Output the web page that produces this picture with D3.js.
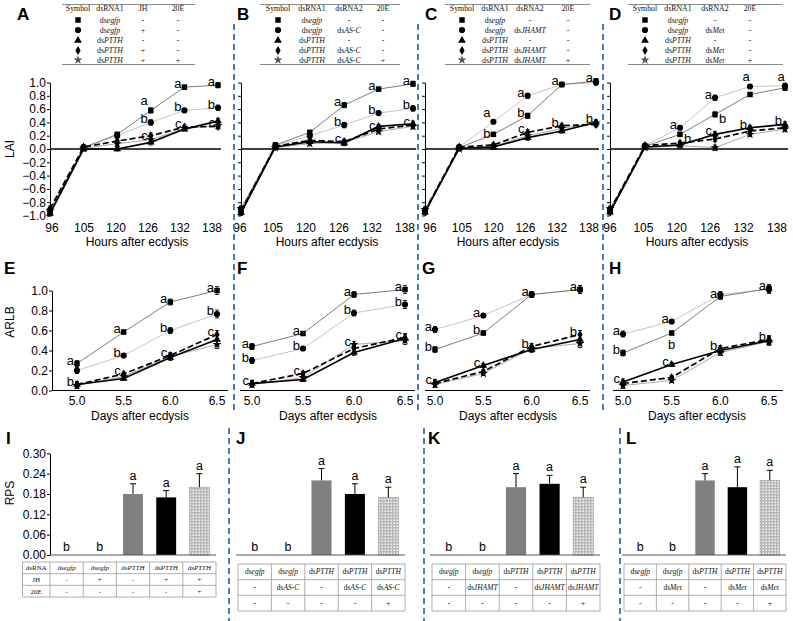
<!DOCTYPE html>
<html>
<head>
<meta charset="utf-8">
<script src="https://cdn.jsdelivr.net/npm/d3@7"></script>
<style>
  body { margin: 0; background: #fff; }
  svg text { font-family: "Liberation Sans", Arial, sans-serif; }
  .tbl text { font-family: "Liberation Serif", "Times New Roman", serif; fill: #111; }
</style>
</head>
<body>
<svg id="fig" width="793" height="621"></svg>
<script>
// ---- data ----
const hours = [96, 105, 120, 126, 132, 138];
const days = [5.0, 5.5, 6.0, 6.5];
const laiTicks = [-1.0, -0.8, -0.6, -0.4, -0.2, 0.0, 0.2, 0.4, 0.6, 0.8, 1.0];
const arlbTicks = [0.0, 0.2, 0.4, 0.6, 0.8, 1.0];
const rpsTicks = [0.00, 0.06, 0.12, 0.18, 0.24, 0.30];

// series order in every line panel: square, circle, triangle, diamond, star
const laiA = [
  [-0.95, 0.02, 0.22, 0.58, 0.93, 0.96],
  [-0.92, 0.03, 0.20, 0.40, 0.58, 0.62],
  [-0.97, 0.00, 0.00, 0.10, 0.30, 0.42],
  [-0.90, 0.03, 0.12, 0.20, 0.33, 0.34],
  [-0.93, 0.01, 0.08, 0.14, 0.31, 0.35]
];
const laiB = [
  [-0.92, 0.06, 0.25, 0.66, 0.90, 0.98],
  [-0.90, 0.05, 0.20, 0.36, 0.54, 0.61],
  [-0.96, 0.03, 0.11, 0.09, 0.34, 0.38],
  [-0.93, 0.04, 0.13, 0.11, 0.30, 0.36],
  [-0.90, 0.02, 0.08, 0.10, 0.26, 0.34]
];
const laiC = [
  [-0.94, 0.02, 0.22, 0.50, 0.97, 1.02],
  [-0.92, 0.03, 0.41, 0.80, 0.97, 1.00],
  [-0.95, 0.01, 0.03, 0.17, 0.27, 0.40],
  [-0.93, 0.03, 0.06, 0.25, 0.35, 0.37],
  [-0.91, 0.00, 0.04, 0.20, 0.31, 0.39]
];
const laiD = [
  [-0.93, 0.04, 0.22, 0.52, 0.82, 0.92],
  [-0.91, 0.05, 0.32, 0.77, 0.94, 0.95],
  [-0.95, 0.03, 0.06, 0.22, 0.32, 0.37],
  [-0.92, 0.05, 0.09, 0.15, 0.27, 0.32],
  [-0.90, 0.02, 0.05, 0.02, 0.22, 0.30]
];
const laiErr = [0.04, 0.03, 0.03, 0.04, 0.03, 0.04];

const arlbE = [
  [0.27, 0.585, 0.885, 1.00],
  [0.20, 0.35, 0.60, 0.765],
  [0.06, 0.12, 0.33, 0.51],
  [0.06, 0.165, 0.35, 0.56],
  [0.05, 0.14, 0.34, 0.46]
];
const arlbF = [
  [0.44, 0.57, 0.96, 1.01],
  [0.30, 0.42, 0.775, 0.86],
  [0.07, 0.11, 0.38, 0.52],
  [0.07, 0.17, 0.42, 0.53],
  [0.06, 0.13, 0.46, 0.50]
];
const arlbG = [
  [0.41, 0.575, 0.96, 1.01],
  [0.61, 0.75, 0.96, 1.01],
  [0.08, 0.25, 0.41, 0.51],
  [0.07, 0.19, 0.44, 0.56],
  [0.06, 0.17, 0.42, 0.47]
];
const arlbH = [
  [0.375, 0.575, 0.94, 1.02],
  [0.565, 0.69, 0.96, 1.01],
  [0.085, 0.26, 0.40, 0.50],
  [0.07, 0.13, 0.42, 0.51],
  [0.05, 0.10, 0.38, 0.49]
];
const arlbErr = [0.03, 0.02, 0.03, 0.04];

// significance letters: [time index, series index, letter, side]
const lettersA = [[3,0,"a","UL"],[3,1,"b"],[3,3,"c","DL"],[4,0,"a"],[4,1,"b"],[4,3,"c"],[5,0,"a"],[5,1,"b"],[5,3,"c"]];
const lettersB = [[3,0,"a"],[3,1,"b"],[3,3,"c"],[4,0,"a"],[4,1,"b"],[4,3,"c"],[5,0,"a"],[5,1,"b"],[5,3,"c"]];
const lettersC = [[2,1,"a","UL"],[2,0,"b","DL"],[3,1,"a"],[3,0,"b"],[3,3,"c"],[4,0,"a"],[4,3,"b"],[5,0,"a"],[5,2,"b"]];
const lettersD = [[2,1,"a"],[2,0,"b","R"],[3,1,"a"],[3,0,"b","R"],[3,2,"c"],[4,1,"a","U"],[4,2,"b"],[5,1,"a","U"],[5,2,"b"]];
const lettersE = [[0,0,"a"],[0,2,"b"],[1,0,"a"],[1,1,"b"],[1,3,"c"],[2,0,"a"],[2,1,"b"],[2,3,"c"],[3,0,"a"],[3,1,"b"],[3,3,"c"]];
const lettersF = [[0,0,"a"],[0,1,"b"],[0,2,"c"],[1,0,"a"],[1,1,"b"],[1,3,"c"],[2,0,"a"],[2,1,"b"],[2,4,"c"],[3,0,"a"],[3,1,"b"],[3,3,"c"]];
const lettersG = [[0,1,"a"],[0,0,"b"],[0,2,"c"],[1,1,"a"],[1,0,"b"],[1,2,"c"],[2,0,"a"],[2,3,"b"],[3,0,"a"],[3,3,"b"]];
const lettersH = [[0,1,"a"],[0,0,"b"],[0,2,"c"],[1,1,"a"],[1,0,"b","B"],[1,2,"c"],[2,0,"a"],[2,3,"b"],[3,0,"a"],[3,3,"b"]];

// legend tables (top)
const legendHeadA = ["Symbol", "dsRNA1", "JH", "20E"];
const legendHeadBCD = ["Symbol", "dsRNA1", "dsRNA2", "20E"];
const legendRowsA = [["dsegfp","-","-"],["dsegfp","+","-"],["dsPTTH","-","-"],["dsPTTH","+","-"],["dsPTTH","+","+"]];
const legendRowsB = [["dsegfp","-","-"],["dsegfp","dsAS-C","-"],["dsPTTH","-","-"],["dsPTTH","dsAS-C","-"],["dsPTTH","dsAS-C","+"]];
const legendRowsC = [["dsegfp","-","-"],["dsegfp","dsJHAMT","-"],["dsPTTH","-","-"],["dsPTTH","dsJHAMT","-"],["dsPTTH","dsJHAMT","+"]];
const legendRowsD = [["dsegfp","-","-"],["dsegfp","dsMet","-"],["dsPTTH","-","-"],["dsPTTH","dsMet","-"],["dsPTTH","dsMet","+"]];

// RPS bars
const rpsI = [0, 0, 0.18, 0.17, 0.20];
const rpsErrI = [0, 0, 0.03, 0.02, 0.04];
const rpsJ = [0, 0, 0.22, 0.18, 0.17];
const rpsErrJ = [0, 0, 0.035, 0.03, 0.03];
const rpsK = [0, 0, 0.20, 0.21, 0.17];
const rpsErrK = [0, 0, 0.04, 0.025, 0.03];
const rpsL = [0, 0, 0.22, 0.20, 0.22];
const rpsErrL = [0, 0, 0.02, 0.06, 0.03];
const rpsLetters = ["b", "b", "a", "a", "a"];

const tableI = [["dsRNA","dsegfp","dsegfp","dsPTTH","dsPTTH","dsPTTH"],["JH","-","+","-","+","+"],["20E","-","-","-","-","+"]];
const tableJ = [["dsegfp","dsegfp","dsPTTH","dsPTTH","dsPTTH"],["-","dsAS-C","-","dsAS-C","dsAS-C"],["-","-","-","-","+"]];
const tableK = [["dsegfp","dsegfp","dsPTTH","dsPTTH","dsPTTH"],["-","dsJHAMT","-","dsJHAMT","dsJHAMT"],["-","-","-","-","+"]];
const tableL = [["dsegfp","dsegfp","dsPTTH","dsPTTH","dsPTTH"],["-","dsMet","-","dsMet","dsMet"],["-","-","-","-","+"]];

// ---- styles ----
const seriesStyle = [
  {stroke: "#6e6e6e", width: 0.9, dash: null, sym: d3.symbolSquare, size: 30},
  {stroke: "#bdbdbd", width: 0.9, dash: null, sym: d3.symbolCircle, size: 30},
  {stroke: "#000", width: 1.7, dash: null, sym: d3.symbolTriangle, size: 26},
  {stroke: "#000", width: 1.7, dash: "6,3", sym: d3.symbolDiamond, size: 24},
  {stroke: "#a0a0a0", width: 0.9, dash: null, sym: d3.symbolStar, size: 26}
];
const drawOrder = [1, 4, 0, 2, 3];
const sepColor = "#4a7ebb";

const svg = d3.select("#fig");

const defs = svg.append("defs");
const pat = defs.append("pattern").attr("id", "dots")
  .attr("width", 3).attr("height", 3).attr("patternUnits", "userSpaceOnUse");
pat.append("rect").attr("width", 3).attr("height", 3).attr("fill", "#b8b8b8");
pat.append("rect").attr("x", 0.5).attr("y", 0.5).attr("width", 1.5).attr("height", 1.5).attr("fill", "#f4f4f4");

function richText(sel, s) {
  if (/^ds/.test(s) && s !== "dsRNA" && !/^dsRNA\d/.test(s)) {
    sel.append("tspan").text("ds");
    sel.append("tspan").attr("font-style", "italic").text(s.slice(2));
  } else {
    sel.text(s);
  }
}

function panelLetter(t, x, y) {
  svg.append("text").attr("x", x).attr("y", y)
    .attr("font-size", 17).attr("font-weight", "bold").text(t);
}

function sigLetter(g, px, py, t, side) {
  let tx = px - 3, ty = py + 1, anchor = "end";
  if (side === "UL") { ty = py - 5; }
  if (side === "DL") { ty = py + 4; }
  if (side === "R") { tx = px + 4; ty = py + 9; anchor = "start"; }
  if (side === "U") { tx = px - 4; ty = py - 5; anchor = "middle"; }
  if (side === "B") { tx = px; ty = py + 16; anchor = "middle"; }
  g.append("text").attr("x", tx).attr("y", ty).attr("text-anchor", anchor)
    .attr("font-size", 13).text(t);
}

function drawSeries(g, xv, x, y, data, err, letters) {
  drawOrder.forEach(si => {
    const st = seriesStyle[si];
    const line = d3.line().x((d, i) => x(xv[i])).y(d => y(d));
    g.append("path").datum(data[si]).attr("d", line)
      .attr("fill", "none").attr("stroke", st.stroke).attr("stroke-width", st.width)
      .attr("stroke-dasharray", st.dash);
  });
  drawOrder.forEach(si => {
    const st = seriesStyle[si];
    data[si].forEach((v, i) => {
      const px = x(xv[i]), y0 = y(v - err[i]), y1 = y(v + err[i]);
      g.append("line").attr("x1", px).attr("x2", px).attr("y1", y0).attr("y2", y1)
        .attr("stroke", "#000").attr("stroke-width", 0.8);
      [y0, y1].forEach(yy => g.append("line").attr("x1", px - 2).attr("x2", px + 2)
        .attr("y1", yy).attr("y2", yy).attr("stroke", "#000").attr("stroke-width", 0.8));
      g.append("path").attr("d", d3.symbol().type(st.sym).size(st.size)())
        .attr("transform", `translate(${px},${y(v)})`).attr("fill", "#000");
    });
  });
  letters.forEach(l => {
    sigLetter(g, x(xv[l[0]]), y(data[l[1]][l[0]]), l[2], l[3] || "L");
  });
}

// ---- top row: LAI ----
const yLai = d3.scaleLinear().domain([-1, 1]).range([215.5, 82.5]);
const topPanels = [
  {name: "A", data: laiA, letters: lettersA, r: [50, 218], lr: [52, 212], lx: 17, tx: 137, labels: true},
  {name: "B", data: laiB, letters: lettersB, r: [241, 413], lr: [240, 405], lx: 237, tx: 327},
  {name: "C", data: laiC, letters: lettersC, r: [425, 596], lr: [430, 589], lx: 425, tx: 508},
  {name: "D", data: laiD, letters: lettersD, r: [610, 785], lr: [610, 777], lx: 609, tx: 697}
];
topPanels.forEach(p => {
  const x = d3.scalePoint().domain(hours).range(p.r);
  const xl = d3.scalePoint().domain(hours).range(p.lr);
  const g = svg.append("g");
  const ax = g.append("g").attr("transform", `translate(${p.r[0]},0)`)
    .call(d3.axisLeft(yLai).tickValues(laiTicks).tickSize(3).tickSizeOuter(0).tickPadding(1)
      .tickFormat(p.labels ? d3.format(".1f") : ""));
  ax.selectAll("text").attr("font-size", 12).attr("font-family", "Liberation Sans, Arial, sans-serif");
  ax.selectAll("path,line").attr("stroke", "#000");
  g.append("line").attr("x1", p.r[0]).attr("x2", p.r[1] + 3)
    .attr("y1", yLai(0)).attr("y2", yLai(0)).attr("stroke", "#000").attr("stroke-width", 1.6);
  hours.forEach(h => g.append("text").attr("x", xl(h)).attr("y", 232)
    .attr("text-anchor", "middle").attr("font-size", 12).text(h));
  g.append("text").attr("x", p.tx).attr("y", 246).attr("text-anchor", "middle")
    .attr("font-size", 12).text("Hours after ecdysis");
  drawSeries(g, hours, x, yLai, p.data, laiErr, p.letters);
  panelLetter(p.name, p.lx, 20);
});
svg.append("text").attr("transform", "translate(14,149) rotate(-90)")
  .attr("text-anchor", "middle").attr("font-size", 12).text("LAI");

// ---- legend tables (top) ----
const legends = [
  {head: legendHeadA, rows: legendRowsA, x: [62, 195], cols: [78, 110, 143, 178]},
  {head: legendHeadBCD, rows: legendRowsB, x: [260, 400], cols: [278, 312, 349, 383]},
  {head: legendHeadBCD, rows: legendRowsC, x: [445, 590], cols: [462, 495, 530, 568]},
  {head: legendHeadBCD, rows: legendRowsD, x: [628, 783], cols: [645, 678, 715, 750]}
];
const legendRowY = [8, 20, 30, 40.5, 50.5, 60];
legends.forEach(L => {
  const g = svg.append("g").attr("class", "tbl");
  [4.5, 64.5].forEach(yy => g.append("line").attr("x1", L.x[0]).attr("x2", L.x[1])
    .attr("y1", yy).attr("y2", yy).attr("stroke", "#8a8a8a").attr("stroke-width", 1));
  L.head.forEach((h, i) => g.append("text").attr("x", L.cols[i]).attr("y", legendRowY[0] + 2.6)
    .attr("text-anchor", "middle").attr("font-size", 7.8).text(h));
  L.rows.forEach((r, ri) => {
    const yy = legendRowY[ri + 1];
    const st = seriesStyle[ri];
    g.append("path").attr("d", d3.symbol().type(st.sym).size(st.size)())
      .attr("transform", `translate(${L.cols[0]},${yy})`).attr("fill", ri === 4 ? "#555" : "#000");
    r.forEach((c, ci) => g.append("text").attr("x", L.cols[ci + 1]).attr("y", yy + 2.6)
      .attr("text-anchor", "middle").attr("font-size", 7.8).call(richText, c));
  });
});

// ---- middle row: ARLB ----
const yArlb = d3.scaleLinear().domain([0, 1]).range([390.5, 290.5]);
const midPanels = [
  {name: "E", data: arlbE, letters: lettersE, r: [77, 217], ax: [52, 228], lx: 4, tx: 140, labels: true},
  {name: "F", data: arlbF, letters: lettersF, r: [252, 405], ax: [240, 415], lx: 237, tx: 328},
  {name: "G", data: arlbG, letters: lettersG, r: [435, 580], ax: [425, 590], lx: 422, tx: 508},
  {name: "H", data: arlbH, letters: lettersH, r: [623, 769], ax: [613, 783], lx: 609, tx: 697}
];
midPanels.forEach(p => {
  const x = d3.scaleLinear().domain([5.0, 6.5]).range(p.r);
  const g = svg.append("g");
  if (p.labels) {
    const ax = g.append("g").attr("transform", `translate(${p.ax[0]},0)`)
      .call(d3.axisLeft(yArlb).tickValues(arlbTicks).tickSize(3).tickSizeOuter(0).tickPadding(1)
        .tickFormat(d3.format(".1f")));
    ax.selectAll("text").attr("font-size", 12).attr("font-family", "Liberation Sans, Arial, sans-serif");
    ax.selectAll("path,line").attr("stroke", "#000");
  }
  g.append("line").attr("x1", p.ax[0]).attr("x2", p.ax[1])
    .attr("y1", yArlb(0)).attr("y2", yArlb(0)).attr("stroke", "#000").attr("stroke-width", 1.2);
  days.forEach(d => g.append("text").attr("x", x(d)).attr("y", 405)
    .attr("text-anchor", "middle").attr("font-size", 12).text(d3.format(".1f")(d)));
  g.append("text").attr("x", p.tx).attr("y", 420).attr("text-anchor", "middle")
    .attr("font-size", 12).text("Days after ecdysis");
  drawSeries(g, days, x, yArlb, p.data, arlbErr, p.letters);
  panelLetter(p.name, p.lx, 274);
});
svg.append("text").attr("transform", "translate(14,322) rotate(-90)")
  .attr("text-anchor", "middle").attr("font-size", 12).text("ARLB");

// ---- bottom row: RPS ----
const yRps = d3.scaleLinear().domain([0, 0.30]).range([555, 453.3]);
const barFills = ["#808080", "#808080", "#808080", "#000", "url(#dots)"];
const botPanels = [
  {name: "I", vals: rpsI, err: rpsErrI, table: tableI, r: [50, 216], lab: [22.5, 50], ty: [562, 597], lx: 6, labels: true, fs: 7},
  {name: "J", vals: rpsJ, err: rpsErrJ, table: tableJ, r: [238, 405], ty: [564, 611], lx: 236, fs: 7.5},
  {name: "K", vals: rpsK, err: rpsErrK, table: tableK, r: [432, 600], ty: [564, 611], lx: 428, fs: 7.5},
  {name: "L", vals: rpsL, err: rpsErrL, table: tableL, r: [624, 786], ty: [564, 611], lx: 626, fs: 7.5}
];
botPanels.forEach(p => {
  const x = d3.scaleBand().domain(d3.range(p.vals.length)).range(p.r).paddingInner(0.4).paddingOuter(0.2);
  const g = svg.append("g");
  if (p.labels) {
    const ax = g.append("g").attr("transform", `translate(${p.r[0]},0)`)
      .call(d3.axisLeft(yRps).tickValues(rpsTicks).tickSize(3).tickSizeOuter(0).tickPadding(1)
        .tickFormat(d3.format(".2f")));
    ax.selectAll("text").attr("font-size", 12).attr("font-family", "Liberation Sans, Arial, sans-serif");
    ax.selectAll("path,line").attr("stroke", "#000");
  }
  p.vals.forEach((v, i) => {
    if (v > 0) {
      g.append("rect").attr("x", x(i)).attr("y", yRps(v)).attr("width", x.bandwidth())
        .attr("height", yRps(0) - yRps(v)).attr("fill", barFills[i])
        .attr("stroke", i === 4 ? "#999" : "none").attr("stroke-width", 0.6);
      const cx = x(i) + x.bandwidth() / 2, top = yRps(v + p.err[i]);
      g.append("line").attr("x1", cx).attr("x2", cx).attr("y1", yRps(v)).attr("y2", top)
        .attr("stroke", "#000").attr("stroke-width", 1);
      g.append("line").attr("x1", cx - 3).attr("x2", cx + 3).attr("y1", top).attr("y2", top)
        .attr("stroke", "#000").attr("stroke-width", 1);
    }
    g.append("text").attr("x", x(i) + x.bandwidth() / 2).attr("y", yRps(v + p.err[i]) - 4)
      .attr("text-anchor", "middle").attr("font-size", 12.5).text(rpsLetters[i]);
  });
  g.append("line").attr("x1", p.labels ? p.r[0] : p.r[0] - 2).attr("x2", p.r[1])
    .attr("y1", yRps(0)).attr("y2", yRps(0)).attr("stroke", "#555").attr("stroke-width", 1);

  // condition table
  const t = svg.append("g").attr("class", "tbl");
  const nr = p.table.length;
  const rh = (p.ty[1] - p.ty[0]) / nr;
  const colEdges = [];
  if (p.lab) colEdges.push(p.lab[0]);
  colEdges.push(p.r[0]);
  p.vals.forEach((v, i) => { if (i > 0) colEdges.push(x(i) - x.step() * 0.4 / 2); });
  colEdges.push(p.r[1]);
  const colCenters = [];
  if (p.lab) colCenters.push((p.lab[0] + p.lab[1]) / 2);
  p.vals.forEach((v, i) => colCenters.push(x(i) + x.bandwidth() / 2));
  const left = colEdges[0], right = colEdges[colEdges.length - 1];
  for (let k = 0; k <= nr; k++) {
    t.append("line").attr("x1", left).attr("x2", right)
      .attr("y1", p.ty[0] + k * rh).attr("y2", p.ty[0] + k * rh)
      .attr("stroke", "#9a9a9a").attr("stroke-width", 0.8);
  }
  colEdges.forEach(cx => t.append("line").attr("x1", cx).attr("x2", cx)
    .attr("y1", p.ty[0]).attr("y2", p.ty[1]).attr("stroke", "#9a9a9a").attr("stroke-width", 0.8));
  p.table.forEach((row, ri) => row.forEach((c, ci) => {
    t.append("text").attr("x", colCenters[ci]).attr("y", p.ty[0] + (ri + 0.5) * rh + 2.5)
      .attr("text-anchor", "middle").attr("font-size", p.fs).call(richText, c);
  }));
  panelLetter(p.name, p.lx, 444);
});
svg.append("text").attr("transform", "translate(14,493) rotate(-90)")
  .attr("text-anchor", "middle").attr("font-size", 12).text("RPS");

// ---- blue dashed separators ----
[234, 418, 603].forEach(xx => svg.append("line").attr("x1", xx).attr("x2", xx)
  .attr("y1", 24).attr("y2", 412).attr("stroke", sepColor).attr("stroke-width", 2)
  .attr("stroke-dasharray", "6,4"));
[229, 424, 620].forEach(xx => svg.append("line").attr("x1", xx).attr("x2", xx)
  .attr("y1", 428).attr("y2", 621).attr("stroke", sepColor).attr("stroke-width", 2)
  .attr("stroke-dasharray", "6,4"));
</script>
</body>
</html>
